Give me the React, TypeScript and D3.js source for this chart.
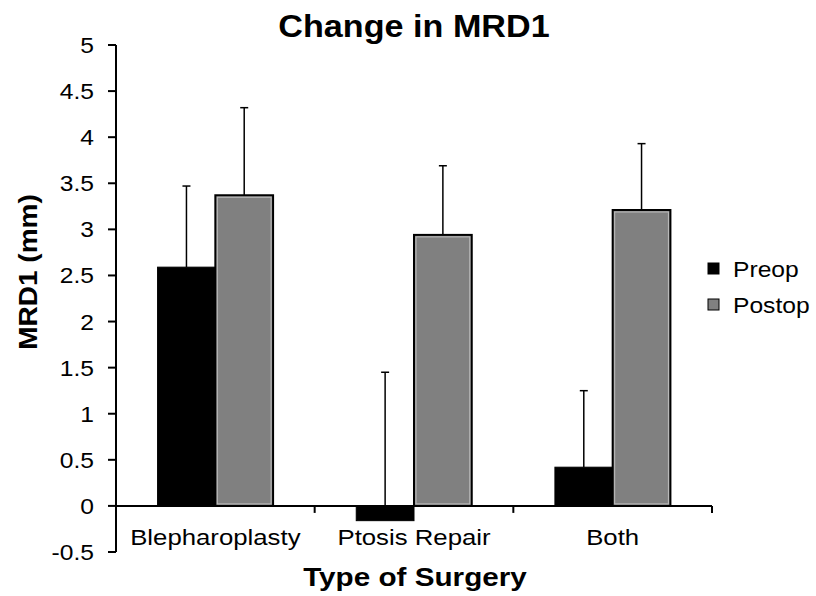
import React from "react";
import * as d3 from "d3";

const categories = ["Blepharoplasty", "Ptosis Repair", "Both"];
const seriesNames = ["Preop", "Postop"];
const preopValues = [2.59, -0.16, 0.42];
const preopErrors = [0.88, 1.61, 0.83];
const postopValues = [3.37, 2.94, 3.21];
const postopErrors = [0.95, 0.75, 0.72];
const yTicks = [-0.5, 0, 0.5, 1, 1.5, 2, 2.5, 3, 3.5, 4, 4.5, 5];
const colors = ["#000000", "#808080"];

const SX = 1.12;

function T(props: { x: number; y: number; size: number; anchor?: string; bold?: boolean; rotate?: number; children: React.ReactNode }) {
  const { x, y, size, anchor = "start", bold = false, rotate = 0, children } = props;
  return (
    <g transform={`translate(${x},${y}) rotate(${rotate}) scale(${SX},1)`}>
      <text x={0} y={0} textAnchor={anchor} fontSize={size} fontWeight={bold ? "bold" : "normal"} fill="#000">
        {children}
      </text>
    </g>
  );
}

export default function App() {
  const W = 816, H = 596;
  const left = 116, right = 712, top = 45, bottom = 552;
  const y = d3.scaleLinear().domain([-0.5, 5]).range([bottom, top]);
  const x = d3.scaleBand<string>().domain(categories).range([left, right]).paddingInner(0).paddingOuter(0);
  const inner = d3.scaleBand<string>().domain(seriesNames).range([0, x.bandwidth()]).paddingInner(0).paddingOuter(0.72);
  const series = [
    { name: "Preop", values: preopValues, errors: preopErrors },
    { name: "Postop", values: postopValues, errors: postopErrors },
  ];
  const font = "Arial, 'Liberation Sans', sans-serif";
  const y0 = y(0);
  return (
    <svg width={W} height={H} style={{ position: "absolute", left: 0, top: 0, background: "#fff" }} fontFamily={font}>
      <rect x={0} y={0} width={W} height={H} fill="#fff" />
      <T x={414} y={37} size={30.5} anchor="middle" bold>Change in MRD1</T>
      {series.map((s, si) =>
        s.values.map((v, i) => {
          const bx = (x(categories[i]) as number) + (inner(s.name) as number);
          const bw = inner.bandwidth();
          const yt = y(Math.max(v, 0));
          const yb = y(Math.min(v, 0));
          const cx = bx + bw / 2;
          const ye = y(v + s.errors[i]);
          return (
            <g key={s.name + i}>
              <line x1={cx} x2={cx} y1={v >= 0 ? yt : y0} y2={ye} stroke="#000" strokeWidth={1.5} />
              <line x1={cx - 4} x2={cx + 4} y1={ye} y2={ye} stroke="#000" strokeWidth={1.5} />
              <rect x={bx} y={yt} width={bw} height={yb - yt} fill={colors[si]} stroke="#000" strokeWidth={si === 1 ? 2 : 1} />
              {si === 1 && (
                <rect x={bx + 2} y={yt + 2} width={bw - 4} height={yb - yt - 4} fill="none" stroke="#bdbdbd" strokeWidth={1} />
              )}
            </g>
          );
        })
      )}
      {/* y axis */}
      <line x1={left} x2={left} y1={top} y2={bottom} stroke="#000" strokeWidth={2} />
      {yTicks.map((t) => (
        <g key={t}>
          <line x1={left - 8} x2={left} y1={y(t)} y2={y(t)} stroke="#000" strokeWidth={2} />
          <T x={94} y={y(t) + 8} size={22} anchor="end">{t}</T>
        </g>
      ))}
      {/* x axis at zero */}
      <line x1={left} x2={right} y1={y0} y2={y0} stroke="#000" strokeWidth={2} />
      {[...categories.map((c) => x(c) as number), right].map((px, i) => (
        <line key={i} x1={px} x2={px} y1={y0} y2={y0 + 7} stroke="#000" strokeWidth={2} />
      ))}
      {categories.map((c) => (
        <T key={c} x={(x(c) as number) + x.bandwidth() / 2} y={545} size={23} anchor="middle">{c}</T>
      ))}
      <T x={415} y={586} size={26.5} anchor="middle" bold>Type of Surgery</T>
      <T x={37} y={272} size={25} anchor="middle" bold rotate={-90}>MRD1 (mm)</T>
      {/* legend */}
      {seriesNames.map((n, i) => (
        <g key={n}>
          <rect x={708} y={263 + i * 36} width={11} height={11} fill={colors[i]} stroke="#000" strokeWidth={1} />
          <T x={733} y={277 + i * 36} size={22}>{n}</T>
        </g>
      ))}
    </svg>
  );
}
